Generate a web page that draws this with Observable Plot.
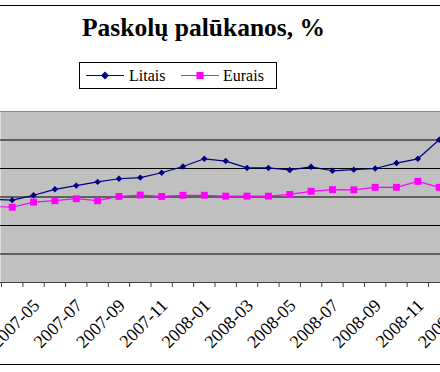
<!DOCTYPE html>
<html><head><meta charset="utf-8">
<script src="https://cdn.jsdelivr.net/npm/d3@7"></script>
<script src="https://cdn.jsdelivr.net/npm/@observablehq/plot@0.6"></script>
<style>
html,body{margin:0;padding:0;overflow:hidden;background:#fff;}
#wrap{position:relative;width:440px;height:372px;overflow:hidden;font-family:"Liberation Serif","Times New Roman",serif;color:#000;}
#border{position:absolute;left:-5px;top:5px;width:450px;height:360px;border:1px solid #000;box-sizing:border-box;}
#title{position:absolute;left:0;top:15px;width:407px;text-align:center;font-weight:bold;font-size:25.5px;line-height:25px;white-space:nowrap;}
#legend{position:absolute;left:79px;top:62px;width:198px;height:27px;border:1px solid #000;box-sizing:border-box;background:#fff;font-size:16px;}
#legend .it{position:absolute;top:0;height:25px;line-height:25px;}
#legend svg{position:absolute;top:6px;}
#chart{position:absolute;left:0;top:0;}
</style></head>
<body>
<div id="wrap">
  <div id="border"></div>
  <div id="title">Paskolų palūkanos, %</div>
  <div id="legend"></div>
  <div id="chart"></div>
</div>
<script>
const months = ["2007-03","2007-04","2007-05","2007-06","2007-07","2007-08","2007-09","2007-10","2007-11","2007-12",
  "2008-01","2008-02","2008-03","2008-04","2008-05","2008-06","2008-07","2008-08","2008-09","2008-10","2008-11","2008-12","2009-01"];
const litais = [5.92,5.89,6.06,6.27,6.40,6.53,6.64,6.68,6.85,7.07,7.34,7.26,7.02,7.02,6.95,7.06,6.92,6.96,7.00,7.19,7.34,8.01,null];
const eurais = [5.67,5.64,5.82,5.87,5.94,5.87,6.02,6.07,6.02,6.06,6.06,6.03,6.03,6.03,6.09,6.20,6.26,6.25,6.34,6.34,6.55,6.34,null];
const seriesNames = ["Litais","Eurais"];
const seriesColors = ["#000080","#ff00ff"];
const yTicks = [3,4,5,6,7,8,9];
const labelMonths = months.filter((m,i)=> i % 2 === 0);

const rowsL = months.map((m,i)=>({month:m, value:litais[i]})).filter(d=>d.value!=null);
const rowsE = months.map((m,i)=>({month:m, value:eurais[i]})).filter(d=>d.value!=null);

const step = 21.35;
const x0 = 11.7 - step;

const chart = Plot.plot({
  width:440, height:372,
  marginTop:111, marginBottom:90, marginLeft:0, marginRight:0,
  style:{background:"transparent", overflow:"hidden"},
  x:{type:"point", domain:months, range:[x0, x0 + step*(months.length-1)], padding:0, round:false, axis:null},
  y:{domain:[yTicks[0], yTicks[yTicks.length-1]], axis:null},
  marks:[
    Plot.frame({fill:"#c0c0c0", stroke:null}),
    Plot.ruleY(yTicks.slice(1,-1), {stroke:"#000", strokeWidth:1}),
    Plot.ruleY([yTicks[yTicks.length-1]], {stroke:"#8a8a8a"}),
    Plot.ruleY([yTicks[0]], {stroke:"#404040"}),
    Plot.axisX(months, {tickSize:5, tickFormat:()=>"", dx:-step/2, stroke:"#404040", label:null}),
    Plot.axisX(labelMonths, {tickSize:0, tickPadding:20, tickRotate:-45, dx:3, fontSize:18, fontFamily:"Liberation Serif, serif", fill:"#000", label:null}),
    Plot.line(rowsL, {x:"month", y:"value", stroke:seriesColors[0], strokeWidth:1.2, clip:"frame"}),
    Plot.line(rowsE, {x:"month", y:"value", stroke:seriesColors[1], strokeWidth:1.2, clip:"frame"}),
    Plot.dot(rowsL, {x:"month", y:"value", symbol:"diamond2", r:2.9, fill:seriesColors[0], stroke:null, clip:"frame"}),
    Plot.dot(rowsE, {x:"month", y:"value", symbol:"square", r:3.9, fill:seriesColors[1], stroke:null, clip:"frame"})
  ]
});
document.getElementById("chart").appendChild(chart);

// legend
const lg = document.getElementById("legend");
const ns = "http://www.w3.org/2000/svg";
const legendPos = [{line:6, text:49}, {line:101, text:143}];
seriesNames.forEach((name,i)=>{
  const s = document.createElementNS(ns,"svg");
  s.setAttribute("width",38); s.setAttribute("height",13);
  s.style.left = legendPos[i].line + "px";
  const ln = document.createElementNS(ns,"line");
  ln.setAttribute("x1",0); ln.setAttribute("x2",38); ln.setAttribute("y1",6.5); ln.setAttribute("y2",6.5);
  ln.setAttribute("stroke",seriesColors[i]); ln.setAttribute("stroke-width",1.2);
  s.appendChild(ln);
  const mk = document.createElementNS(ns,"path");
  mk.setAttribute("d", i===0 ? "M19,2.5L23,6.5L19,10.5L15,6.5Z" : "M15.5,3L22.5,3L22.5,10L15.5,10Z");
  mk.setAttribute("fill",seriesColors[i]);
  s.appendChild(mk);
  lg.appendChild(s);
  const t = document.createElement("span");
  t.className="it"; t.style.left = legendPos[i].text + "px"; t.textContent = name;
  lg.appendChild(t);
});
</script>
</body></html>
